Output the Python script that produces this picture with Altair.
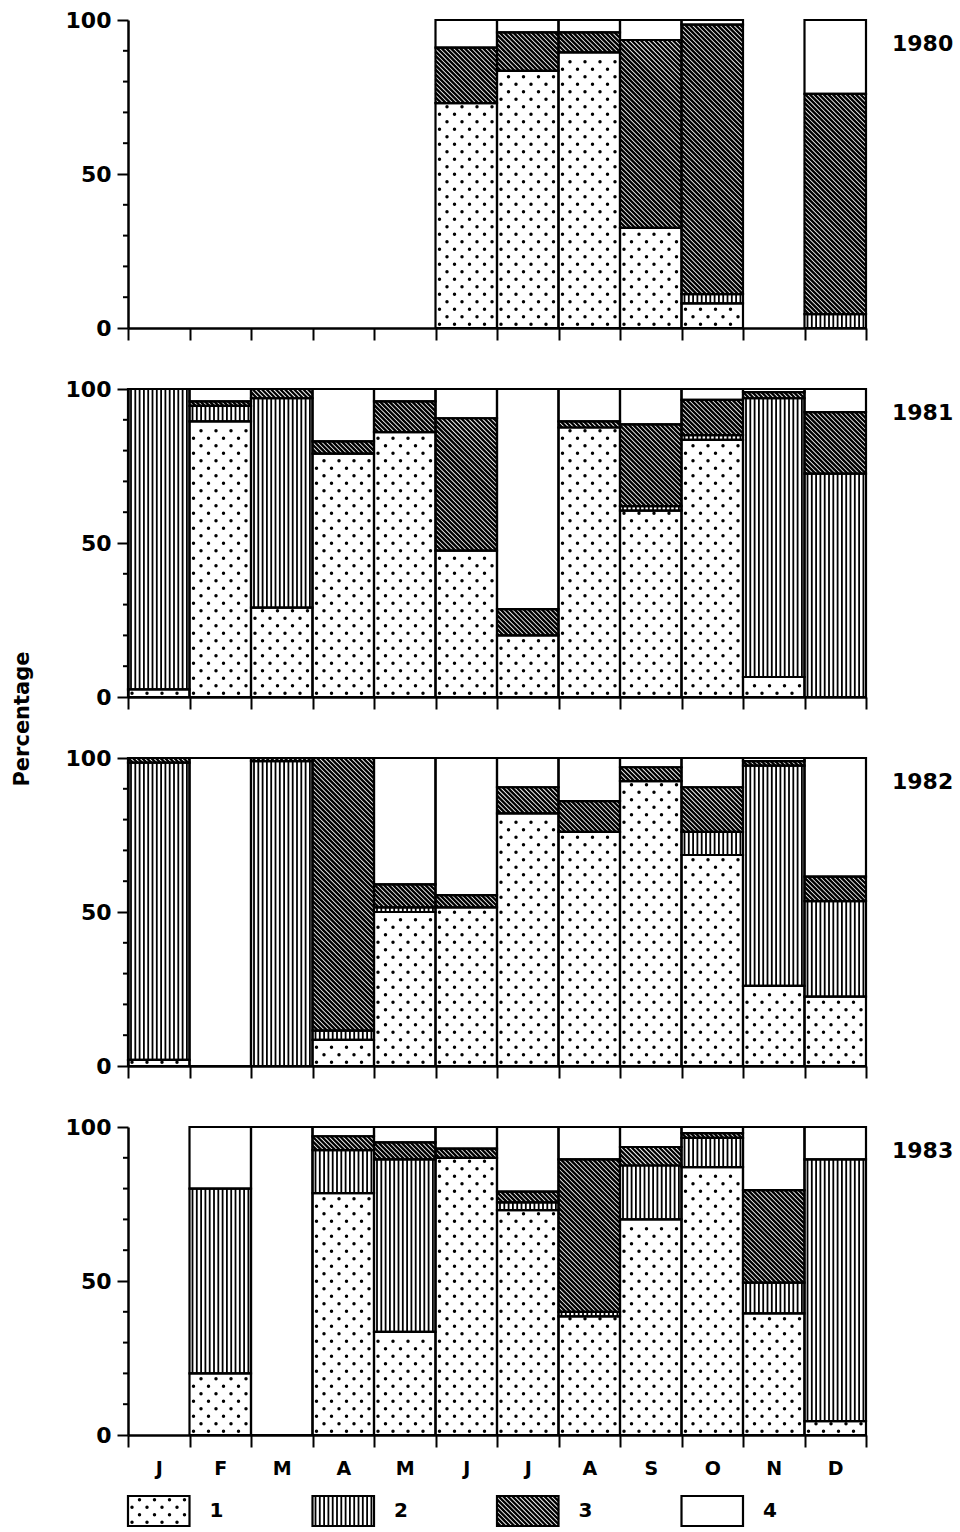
import altair as alt
import numpy as np
import pandas as pd

alt.data_transformers.disable_max_rows()

MONTHS = ["J", "F", "M", "A", "M", "J", "J", "A", "S", "O", "N", "D"]
YEARS = ["1980", "1981", "1982", "1983"]
CATEGORIES = ["1", "2", "3", "4"]

# Monthly percentage of each category (None = month not sampled)
CAT1 = {
    "1980": [None, None, None, None, None, 73, 83.5, 89.5, 32.5, 8, None, 0],
    "1981": [2.5, 89.5, 29, 79, 86, 47.5, 20, 87.5, 60.5, 83.5, 6.5, 0],
    "1982": [2, 0, 0, 8.5, 50, 51.5, 82, 76, 92.5, 68.5, 26, 22.5],
    "1983": [None, 20, 0, 78.5, 33.5, 90, 73, 38.5, 70, 87, 39.5, 4.5],
}
CAT2 = {
    "1980": [None, None, None, None, None, 0, 0, 0, 0, 3, None, 4.5],
    "1981": [97.5, 5, 68, 0, 0, 0, 0, 0, 1.5, 1.5, 90.5, 72.5],
    "1982": [96.5, 0, 99, 3, 1.5, 0, 0, 0, 0, 7.5, 71.5, 31],
    "1983": [None, 60, 0, 14, 56, 0, 2.5, 1.5, 17.5, 9.5, 10, 85],
}
CAT3 = {
    "1980": [None, None, None, None, None, 18, 12.5, 6.5, 61, 87.5, None, 71.5],
    "1981": [0, 1.5, 3, 4, 10, 43, 8.5, 2, 26.5, 11.5, 2, 20],
    "1982": [1.5, 0, 1, 88.5, 7.5, 4, 8.5, 10, 4.5, 14.5, 1.5, 8],
    "1983": [None, 0, 0, 4.5, 5.5, 3, 3.5, 49.5, 6, 1.5, 30, 0],
}
CAT4 = {
    "1980": [None, None, None, None, None, 9, 4, 4, 6.5, 1.5, None, 24],
    "1981": [0, 4, 0, 17, 4, 9.5, 71.5, 10.5, 11.5, 3.5, 1, 7.5],
    "1982": [0, 100, 0, 0, 41, 44.5, 9.5, 14, 3, 9.5, 1, 38.5],
    "1983": [None, 20, 100, 3, 5, 7, 21, 10.5, 6.5, 2, 20.5, 10.5],
}

MAJOR_TICKS = [0, 50, 100]
MINOR_TICKS = [10, 20, 30, 40, 60, 70, 80, 90]

# panel geometry (pixels)
W, H = 738, 308
LEGEND_H = 30
FONT = "DejaVu Sans"
INK = "black"

# hatching geometry (pixels)
DOT_DX, DOT_DY, DOT_SIZE = 15.0, 7.5, 12
VLINE_GAP, VLINE_W = 4.3, 1.8
DIAG_GAP, DIAG_W = 4.6, 2.4
OUTLINE_W = 2.2

SEG_COLS = ["x0", "x1", "y0", "y1", "cat", "pct"]


def stacked(year):
    """Stack the four category shares of each sampled month."""
    rows = []
    for m in range(12):
        shares = [CAT1[year][m], CAT2[year][m], CAT3[year][m], CAT4[year][m]]
        if shares[0] is None:
            continue
        base = 0.0
        for cat, share in zip(CATEGORIES, shares):
            if share > 0:
                rows.append({"x0": m, "x1": m + 1, "y0": base,
                             "y1": base + share, "cat": cat, "pct": share})
            base += share
    return pd.DataFrame(rows, columns=SEG_COLS)


def texture(seg, sx, sy):
    """Fill patterns: dots (1), vertical lines (2), diagonal lines (3)."""
    dots, vlines, diags = [], [], []
    for r in seg.itertuples():
        X0, X1, Y0, Y1 = r.x0 * sx, r.x1 * sx, r.y0 * sy, r.y1 * sy
        if r.cat == "1":
            k = int(np.ceil((Y0 + 2 - DOT_DY / 2) / DOT_DY))
            while k * DOT_DY + DOT_DY / 2 <= Y1 - 2:
                yy = k * DOT_DY + DOT_DY / 2
                xx = X0 + 4 + (DOT_DX / 2 if k % 2 else 0)
                while xx <= X1 - 2:
                    dots.append({"x": xx / sx, "y": yy / sy})
                    xx += DOT_DX
                k += 1
        elif r.cat == "2":
            xx = X0 + 3
            while xx <= X1 - 2.5:
                vlines.append({"x": xx / sx, "y0": r.y0, "y1": r.y1})
                xx += VLINE_GAP
        elif r.cat == "3":
            c = np.ceil((X0 + Y0) / DIAG_GAP) * DIAG_GAP
            while c < X1 + Y1:
                xa, xb = max(X0, c - Y1), min(X1, c - Y0)
                if xb - xa > 0.4:
                    diags.append({"xa": xa / sx, "ya": (c - xa) / sy,
                                  "xb": xb / sx, "yb": (c - xb) / sy})
                c += DIAG_GAP
    return (pd.DataFrame(dots, columns=["x", "y"]),
            pd.DataFrame(vlines, columns=["x", "y0", "y1"]),
            pd.DataFrame(diags, columns=["xa", "ya", "xb", "yb"]))


def hatched_bars(seg, sx, sy, xs, ys, x_axis, y_axis, quiet):
    """White stacked boxes, their fill patterns and black outlines.

    `quiet` holds the X/Y keyword arguments of the layers that must not
    add their own axis to the shared one.
    """
    dots, vlines, diags = texture(seg, sx, sy)
    base = alt.Chart(seg).mark_rect(fill="white", strokeWidth=0).encode(
        x=alt.X("x0:Q", scale=xs, axis=x_axis, title=None), x2="x1:Q",
        y=alt.Y("y0:Q", scale=ys, axis=y_axis, title=None), y2="y1:Q",
    )
    dot_layer = alt.Chart(dots).mark_circle(
        size=DOT_SIZE, color=INK, opacity=1
    ).encode(
        x=alt.X("x:Q", scale=xs, **quiet),
        y=alt.Y("y:Q", scale=ys, **quiet),
    )
    vline_layer = alt.Chart(vlines).mark_rule(
        color=INK, strokeWidth=VLINE_W
    ).encode(
        x=alt.X("x:Q", scale=xs, **quiet),
        y=alt.Y("y0:Q", scale=ys, **quiet), y2="y1:Q",
    )
    diag_layer = alt.Chart(diags).mark_rule(
        color=INK, strokeWidth=DIAG_W
    ).encode(
        x=alt.X("xa:Q", scale=xs, **quiet), x2="xb:Q",
        y=alt.Y("ya:Q", scale=ys, **quiet), y2="yb:Q",
    )
    outline = alt.Chart(seg).mark_rect(
        fillOpacity=0, stroke=INK, strokeWidth=OUTLINE_W
    ).encode(
        x=alt.X("x0:Q", scale=xs, **quiet), x2="x1:Q",
        y=alt.Y("y0:Q", scale=ys, **quiet), y2="y1:Q",
    )
    return [base, dot_layer, vline_layer, diag_layer, outline]


def panel(year, show_months=False, side_title=False):
    seg = stacked(year)
    sx, sy = W / 12, H / 100
    xs = alt.Scale(domain=[0, 12], nice=False, zero=False)
    ys = alt.Scale(domain=[0, 100], nice=False)
    x_axis = alt.Axis(
        values=list(range(13)), tickSize=12, tickWidth=2, domainWidth=2.5,
        labels=show_months,
        labelExpr=f"datum.value < 12 ? {MONTHS}[datum.value] : ''",
        labelOffset=sx / 2, labelPadding=12, labelFontSize=19,
        labelFlush=False, labelOverlap=False, grid=False, zindex=1,
    )
    y_axis = alt.Axis(
        values=MAJOR_TICKS, tickSize=11, tickWidth=2, domainWidth=2.5,
        labelFontSize=22, labelPadding=6, grid=False, zindex=1,
    )
    quiet = {"title": None}
    layers = hatched_bars(seg, sx, sy, xs, ys, x_axis, y_axis, quiet)

    minor = alt.Chart(pd.DataFrame({"v": MINOR_TICKS})).mark_rule(
        color=INK, strokeWidth=2
    ).encode(
        y=alt.Y("v:Q", scale=ys, title=None),
        x=alt.value(-5), x2=alt.value(0),
    )
    year_label = alt.Chart(pd.DataFrame({"t": [year]})).mark_text(
        font=FONT, fontSize=22, fontWeight="bold", color=INK,
        align="left", baseline="middle",
    ).encode(text="t:N", x=alt.value(W + 26), y=alt.value(24))
    layers += [minor, year_label]

    if side_title:
        layers.append(
            alt.Chart(pd.DataFrame({"t": ["Percentage"]})).mark_text(
                font=FONT, fontSize=21, fontWeight="bold", color=INK,
                angle=270, align="center", baseline="middle",
            ).encode(text="t:N", x=alt.value(-105), y=alt.value(330))
        )
    return alt.layer(*layers).properties(width=W, height=H)


def legend():
    n = len(CATEGORIES)
    seg = pd.DataFrame({
        "x0": [3 * i for i in range(n)],
        "x1": [3 * i + 1 for i in range(n)],
        "y0": [0.0] * n, "y1": [1.0] * n,
        "cat": CATEGORIES, "pct": [100] * n,
    })
    sx, sy = W / 12, LEGEND_H
    xs = alt.Scale(domain=[0, 12], nice=False, zero=False)
    ys = alt.Scale(domain=[0, 1], nice=False)
    layers = hatched_bars(seg, sx, sy, xs, ys, None, None, {"axis": None})
    labels = alt.Chart(seg).mark_text(
        font=FONT, fontSize=20, fontWeight="bold", color=INK,
        align="left", baseline="middle", dx=20,
    ).encode(
        x=alt.X("x1:Q", scale=xs, axis=None),
        y=alt.value(LEGEND_H / 2),
        text="cat:N",
    )
    return alt.layer(*layers, labels).properties(width=W, height=LEGEND_H)


panels = [
    panel(y, show_months=(i == len(YEARS) - 1), side_title=(y == "1981"))
    for i, y in enumerate(YEARS)
]

chart = (
    alt.vconcat(*panels, legend(), spacing=61, bounds="flush")
    .properties(padding={"left": 12, "top": 9, "right": 5, "bottom": 5},
                background="white")
    .configure_view(stroke=None)
    .configure_axis(
        labelFont=FONT, labelFontWeight="bold", labelColor=INK,
        domainColor=INK, tickColor=INK,
    )
)

chart.save("out.html", embed_options={"renderer": "svg", "actions": False})
